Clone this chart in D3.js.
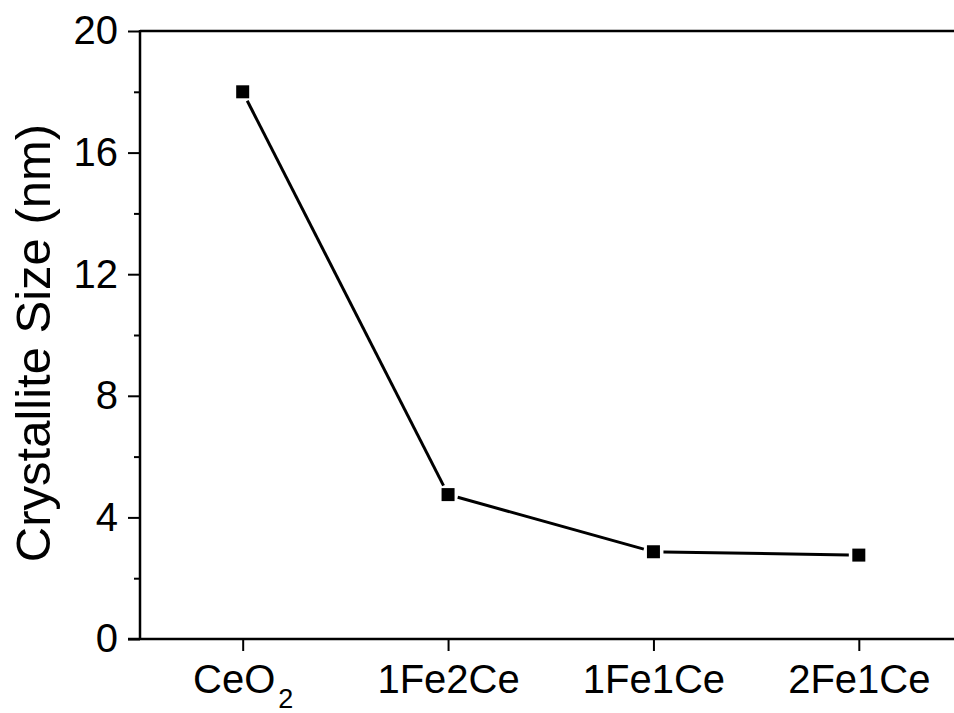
<!DOCTYPE html>
<html lang="en">

<head>
    <meta charset="UTF-8">
    <title>Crystallite Size</title>
    <script src="https://d3js.org/d3.v7.min.js"></script>
    <style>
        body {
            margin: 0;
            background: #fff;
        }

        svg text {
            font-family: "Liberation Sans", Arial, sans-serif;
            fill: #000;
        }
    </style>
</head>

<body>
    <svg width="954" height="713"></svg>

    <script>
        // data
        const samples = ["CeO2", "1Fe2Ce", "1Fe1Ce", "2Fe1Ce"];
        const sizes = [18.0, 4.75, 2.87, 2.76];
        const yTicks = [0, 4, 8, 12, 16, 20];
        const yMinorTicks = [2, 6, 10, 14, 18];

        const svg = d3.select("svg");
        const plotLeft = 140, plotTop = 31, plotBottom = 639, plotRight = 961.5;

        const x = d3.scalePoint().domain(samples).range([plotLeft, plotRight]).padding(0.5);
        const y = d3.scaleLinear().domain([0, 20]).range([plotBottom, plotTop]);

        // frame line on top (right side is cut off)
        svg.append("line")
            .attr("x1", plotLeft).attr("x2", 954)
            .attr("y1", plotTop).attr("y2", plotTop)
            .attr("stroke", "#000").attr("stroke-width", 2.5);

        // y axis
        const yAxis = svg.append("g")
            .attr("transform", `translate(${plotLeft},0)`)
            .call(d3.axisLeft(y).tickValues(yTicks).tickSize(12).tickPadding(10));
        yAxis.select(".domain").remove();
        yAxis.selectAll(".tick line").attr("stroke-width", 2);
        yAxis.selectAll("text").attr("font-size", 40).attr("fill", "#000");

        svg.append("g")
            .attr("transform", `translate(${plotLeft},0)`)
            .call(d3.axisLeft(y).tickValues(yMinorTicks).tickSize(6).tickFormat(""))
            .call(g => g.select(".domain").remove())
            .selectAll(".tick line").attr("stroke-width", 2);

        svg.append("line")
            .attr("x1", plotLeft).attr("x2", plotLeft)
            .attr("y1", plotTop - 1).attr("y2", plotBottom + 1)
            .attr("stroke", "#000").attr("stroke-width", 2.5);

        // x axis
        const xAxis = svg.append("g")
            .attr("transform", `translate(0,${plotBottom})`)
            .call(d3.axisBottom(x).tickSize(12).tickPadding(14));
        xAxis.select(".domain").remove();
        xAxis.selectAll(".tick line").attr("stroke-width", 2);
        xAxis.selectAll("text")
            .attr("font-size", 40)
            .attr("fill", "#000")
            .each(function (d) {
                const m = d.match(/^(.*O)(\d)$/);
                if (!m) return;
                const t = d3.select(this).text("");
                t.append("tspan").text(m[1]);
                t.append("tspan").attr("font-size", 27).attr("dx", 3).attr("dy", 15).text(m[2]);
            });

        svg.append("line")
            .attr("x1", plotLeft - 12).attr("x2", 954)
            .attr("y1", plotBottom).attr("y2", plotBottom)
            .attr("stroke", "#000").attr("stroke-width", 2.5);

        // y title
        svg.append("text")
            .attr("transform", `translate(50,343) rotate(-90)`)
            .attr("text-anchor", "middle")
            .attr("font-size", 49)
            .text("Crystallite Size (nm)");

        // line with small gaps at the markers
        const pts = samples.map((s, i) => [x(s), y(sizes[i])]);
        const gap = 10;
        const segs = d3.pairs(pts).map(([a, b]) => {
            const dx = b[0] - a[0], dy = b[1] - a[1];
            const len = Math.hypot(dx, dy);
            const ux = dx / len, uy = dy / len;
            return [[a[0] + ux * gap, a[1] + uy * gap], [b[0] - ux * gap, b[1] - uy * gap]];
        });

        svg.selectAll(".seg")
            .data(segs)
            .enter()
            .append("line")
            .attr("class", "seg")
            .attr("x1", d => d[0][0])
            .attr("y1", d => d[0][1])
            .attr("x2", d => d[1][0])
            .attr("y2", d => d[1][1])
            .attr("stroke", "#000")
            .attr("stroke-width", 3);

        const m = 13;
        svg.selectAll(".pt")
            .data(sizes)
            .enter()
            .append("rect")
            .attr("class", "pt")
            .attr("x", (d, i) => x(samples[i]) - m / 2)
            .attr("y", d => y(d) - m / 2)
            .attr("width", m)
            .attr("height", m)
            .attr("fill", "#000");
    </script>
</body>

</html>
